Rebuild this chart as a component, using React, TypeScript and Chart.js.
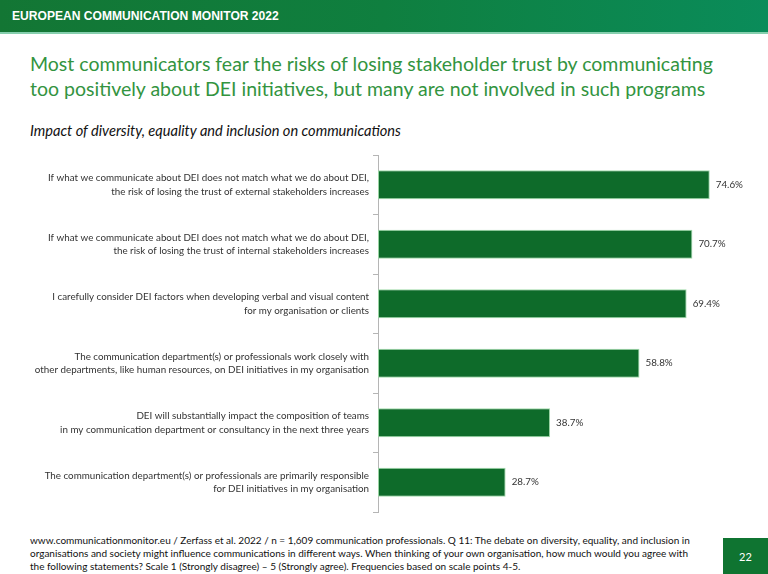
import React, { useEffect, useRef } from "react";
import { Chart, registerables } from "chart.js";

Chart.register(...registerables);

const categories: string[][] = [
  [
    "If what we communicate about DEI does not match what we do about DEI,",
    "the risk of losing the trust of external stakeholders increases",
  ],
  [
    "If what we communicate about DEI does not match what we do about DEI,",
    "the risk of losing the trust of internal stakeholders increases",
  ],
  [
    "I carefully consider DEI factors when developing verbal and visual content",
    "for my organisation or clients",
  ],
  [
    "The communication department(s) or professionals work closely with",
    "other departments, like human resources, on DEI initiatives in my organisation",
  ],
  [
    "DEI will substantially impact the composition of teams",
    "in my communication department or consultancy in the next three years",
  ],
  [
    "The communication department(s) or professionals are primarily responsible",
    "for DEI initiatives in my organisation",
  ],
];

const agreeShare: number[] = [74.6, 70.7, 69.4, 58.8, 38.7, 28.7];

const headerText = "EUROPEAN COMMUNICATION MONITOR 2022";
const titleLines: string[] = [
  "Most communicators fear the risks of losing stakeholder trust by communicating",
  "too positively about DEI initiatives, but many are not involved in such programs",
];
const subtitleText = "Impact of diversity, equality and inclusion on communications";
const footerLines: string[] = [
  "www.communicationmonitor.eu / Zerfass et al. 2022 / n = 1,609 communication professionals. Q 11: The debate on diversity, equality, and inclusion in",
  "organisations and society might influence communications in different ways. When thinking of your own organisation, how much would you agree with",
  "the following statements? Scale 1 (Strongly disagree) \u2013 5 (Strongly agree). Frequencies based on scale points 4-5.",
];
const pageNumber = "22";

const FONT = "Lato, 'Open Sans', 'DejaVu Sans', sans-serif";

const valueLabelPlugin = {
  id: "valueLabels",
  afterDatasetsDraw(chart: any) {
    const ctx = chart.ctx;
    const meta = chart.getDatasetMeta(0);
    const data = chart.data.datasets[0].data as number[];
    ctx.save();
    ctx.font = `9.8px ${FONT}`;
    ctx.fillStyle = "#333333";
    ctx.textAlign = "left";
    ctx.textBaseline = "middle";
    meta.data.forEach((bar: any, i: number) => {
      ctx.fillText(`${data[i].toFixed(1)}%`, bar.x + 6, bar.y);
    });
    ctx.restore();
  },
};

export default function App() {
  const canvasRef = useRef<HTMLCanvasElement | null>(null);

  useEffect(() => {
    if (!canvasRef.current) return;
    const chart = new Chart(canvasRef.current, {
      type: "bar",
      data: {
        labels: categories,
        datasets: [
          {
            data: agreeShare,
            backgroundColor: "#0e6b2a",
            borderColor: "rgba(150,215,160,0.9)",
            borderWidth: 1,
            borderSkipped: false,
            barPercentage: 0.49,
            categoryPercentage: 1,
          },
        ],
      },
      options: {
        indexAxis: "y",
        animation: false,
        responsive: false,
        maintainAspectRatio: false,
        layout: { padding: { top: 7, bottom: 6, left: 0, right: 12 } },
        plugins: {
          legend: { display: false },
          tooltip: { enabled: false },
          title: { display: false },
        },
        scales: {
          x: {
            display: false,
            min: 0,
            max: 85,
          },
          y: {
            afterFit(scale: any) {
              scale.width = 378;
              scale.paddingTop = 0;
              scale.paddingBottom = 0;
            },
            grid: {
              display: true,
              drawOnChartArea: false,
              drawTicks: true,
              tickLength: 5,
              color: "#b5b5b5",
              offset: true,
            },
            border: { display: true, color: "#b5b5b5", width: 1 },
            ticks: {
              color: "#333333",
              padding: 4,
              font: { family: FONT, size: 9.8, lineHeight: 1.4 },
            },
          },
        },
      },
      plugins: [valueLabelPlugin],
    });
    return () => chart.destroy();
  }, []);

  return (
    <div
      style={{
        position: "absolute",
        top: 0,
        left: 0,
        width: 768,
        height: 574,
        background: "#ffffff",
        overflow: "hidden",
        fontFamily: FONT,
      }}
    >
      <div
        style={{
          position: "absolute",
          top: 0,
          left: 0,
          width: 768,
          height: 32,
          background: "linear-gradient(90deg, #137634 0%, #0f7f3f 50%, #0a8c5a 100%)",
          borderBottom: "2px solid #86cfae",
        }}
      >
        <div
          style={{
            position: "absolute",
            left: 12,
            top: 8,
            color: "#ffffff",
            fontFamily: "'Liberation Sans', Arial, sans-serif",
            fontWeight: 700,
            fontSize: 13.5,
            lineHeight: "16px",
            whiteSpace: "nowrap",
            transform: "scaleX(0.895)",
            transformOrigin: "left center",
          }}
        >
          {headerText}
        </div>
      </div>

      <div
        style={{
          position: "absolute",
          left: 30,
          top: 51,
          color: "#33943f",
          fontSize: 19.5,
          lineHeight: "25px",
          whiteSpace: "nowrap",
        }}
      >
        {titleLines.map((l, i) => (
          <div key={i}>{l}</div>
        ))}
      </div>

      <div
        style={{
          position: "absolute",
          left: 30,
          top: 122,
          color: "#111111",
          fontSize: 14.6,
          fontStyle: "italic",
          lineHeight: "18px",
          whiteSpace: "nowrap",
        }}
      >
        {subtitleText}
      </div>

      <canvas
        ref={canvasRef}
        width={768}
        height={370}
        style={{ position: "absolute", left: 0, top: 148, width: 768, height: 370 }}
      />

      <div
        style={{
          position: "absolute",
          left: 30,
          top: 534,
          color: "#111111",
          fontSize: 10,
          lineHeight: "13px",
          whiteSpace: "nowrap",
        }}
      >
        {footerLines.map((l, i) => (
          <div key={i}>{l}</div>
        ))}
      </div>

      <div
        style={{
          position: "absolute",
          left: 723,
          top: 538,
          width: 45,
          height: 36,
          background: "#0f7431",
          color: "#ffffff",
          fontSize: 11,
          display: "flex",
          alignItems: "center",
          justifyContent: "center",
        }}
      >
        {pageNumber}
      </div>
    </div>
  );
}
